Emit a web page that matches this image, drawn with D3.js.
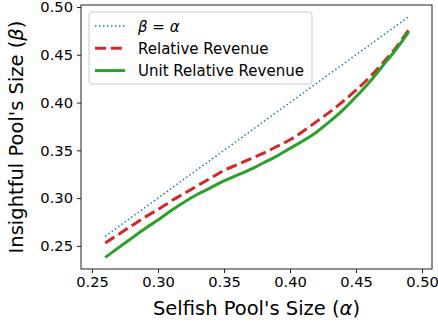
<!DOCTYPE html>
<html>
<head>
<meta charset="utf-8">
<script src="https://cdn.jsdelivr.net/npm/d3@7"></script>
<style>
    body { margin: 0; background: #fff; }
    text { font-family: "DejaVu Sans", sans-serif; fill: #000; }
</style>
</head>
<body>
<div class="chart"></div>
<script>
// selfish pool size (alpha)
var alphas = [0.26, 0.27, 0.28, 0.29, 0.30, 0.31, 0.32, 0.33, 0.34, 0.35, 0.36, 0.37,
    0.38, 0.39, 0.40, 0.41, 0.42, 0.43, 0.44, 0.45, 0.46, 0.47, 0.48, 0.49];
var relRevenue = [0.253, 0.262, 0.271, 0.280, 0.288, 0.297, 0.305, 0.313, 0.321, 0.329, 0.335, 0.341,
    0.347, 0.354, 0.361, 0.370, 0.380, 0.390, 0.401, 0.413, 0.426, 0.441, 0.457, 0.476];
var unitRelRevenue = [0.238, 0.248, 0.258, 0.268, 0.277, 0.287, 0.296, 0.304, 0.311, 0.318, 0.324, 0.330,
    0.337, 0.344, 0.352, 0.360, 0.369, 0.380, 0.392, 0.406, 0.421, 0.438, 0.455, 0.474];
var xTicks = [0.25, 0.30, 0.35, 0.40, 0.45, 0.50];
var yTicks = [0.25, 0.30, 0.35, 0.40, 0.45, 0.50];

var series = [
    { name: "β = α", vals: alphas, color: "#1f77b4", width: 1.5, dash: "1.5,2.5" },
    { name: "Relative Revenue", vals: relRevenue, color: "#d62728", width: 3, dash: "11,4.8" },
    { name: "Unit Relative Revenue", vals: unitRelRevenue, color: "#2ca02c", width: 3, dash: null }
];

var margin = { top: 5, right: 6, bottom: 55, left: 81 },
    width = 438 - margin.left - margin.right,
    height = 324 - margin.top - margin.bottom;

var svg = d3.select('.chart')
    .append('svg')
    .attr("width", 438)
    .attr("height", 324)
    .append("g")
    .attr("transform", "translate(" + margin.left + "," + margin.top + ")");

var x = d3.scaleLinear()
    .domain([0.24167, 0.50758])
    .range([0, width]);

var y = d3.scaleLinear()
    .domain([0.2258, 0.5021])
    .range([height, 0]);

var xAxis = svg.append("g")
    .attr("transform", "translate(0," + height + ")")
    .call(d3.axisBottom(x).tickValues(xTicks).tickFormat(d3.format(".2f")).tickSizeOuter(0).tickSize(4).tickPadding(4));

var yAxis = svg.append("g")
    .call(d3.axisLeft(y).tickValues(yTicks).tickFormat(d3.format(".2f")).tickSizeOuter(0).tickSize(4).tickPadding(4));

[xAxis, yAxis].forEach(function (g) {
    g.select(".domain").remove();
    g.selectAll("line").attr("stroke", "#222").attr("stroke-width", 1);
    g.selectAll("text").style("font-size", "14.7px").attr("fill", "#000");
});

// frame
svg.append("rect")
    .attr("x", 0).attr("y", 0)
    .attr("width", width).attr("height", height)
    .attr("fill", "none")
    .attr("stroke", "#222")
    .attr("stroke-width", 1);

var line = d3.line()
    .curve(d3.curveMonotoneX)
    .x(function (d, i) { return x(alphas[i]); })
    .y(function (d) { return y(d); });

series.forEach(function (s) {
    svg.append("path")
        .datum(s.vals)
        .attr("fill", "none")
        .attr("stroke", s.color)
        .attr("stroke-width", s.width)
        .attr("stroke-dasharray", s.dash)
        .attr("d", line);
});

// legend
var legend = svg.append("g").attr("transform", "translate(8,7)");
legend.append("rect")
    .attr("width", 223).attr("height", 72)
    .attr("rx", 3)
    .attr("fill", "#fff").attr("fill-opacity", 0.8)
    .attr("stroke", "#ccc").attr("stroke-width", 1);

series.forEach(function (s, i) {
    var ly = 14 + i * 22.3;
    legend.append("line")
        .attr("x1", 6).attr("x2", 36)
        .attr("y1", ly).attr("y2", ly)
        .attr("stroke", s.color)
        .attr("stroke-width", s.width)
        .attr("stroke-dasharray", s.dash);
    var t = legend.append("text")
        .attr("x", 49).attr("y", ly + 5.5)
        .style("font-size", "15px");
    if (i === 0) {
        t.append("tspan").style("font-style", "italic").text("β");
        t.append("tspan").text(" = ");
        t.append("tspan").style("font-style", "italic").text("α");
    } else {
        t.text(s.name);
    }
});

// axis titles
var xt = svg.append("text")
    .attr("x", width / 2).attr("y", height + 46)
    .attr("text-anchor", "middle")
    .style("font-size", "19.5px");
xt.append("tspan").text("Selfish Pool's Size (");
xt.append("tspan").style("font-style", "italic").text("α");
xt.append("tspan").text(")");

var yt = svg.append("text")
    .attr("transform", "translate(-58," + (height / 2) + ") rotate(-90)")
    .attr("text-anchor", "middle")
    .style("font-size", "19.5px");
yt.append("tspan").text("Insightful Pool's Size (");
yt.append("tspan").style("font-style", "italic").text("β");
yt.append("tspan").text(")");
</script>
</body>
</html>
